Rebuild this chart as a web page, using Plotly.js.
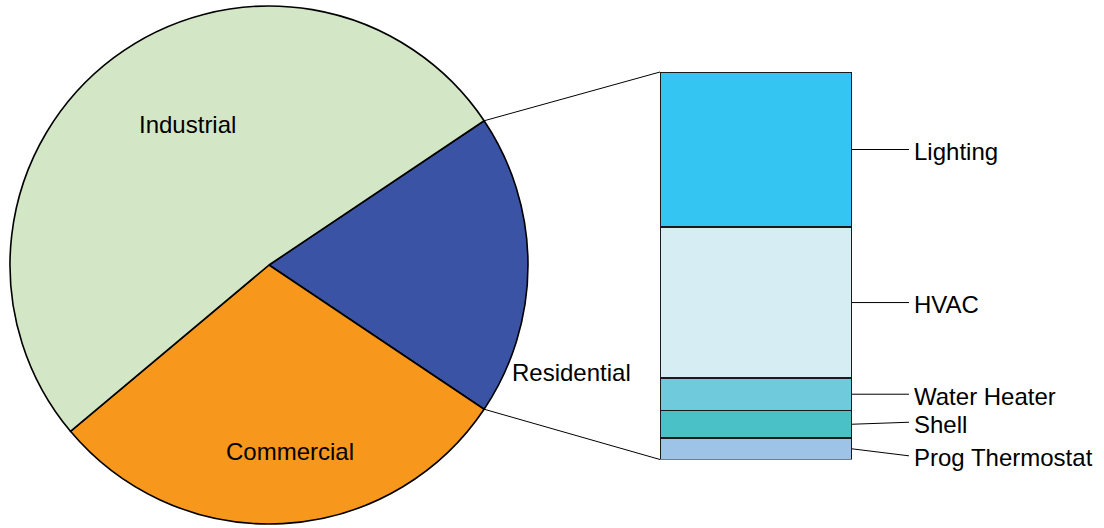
<!DOCTYPE html>
<html><head><meta charset="utf-8">
<script src="https://cdn.plot.ly/plotly-3.0.1.min.js"></script>
<style>html,body{margin:0;padding:0;background:#fff}#chart{width:1104px;height:528px}</style>
</head><body><div id="chart"></div>
<script>
// ---- data ----
const sectors = ['Residential', 'Commercial', 'Industrial'];
const sectorShares = [18.8, 29.5, 51.7];
const sectorColors = ['#3A53A4', '#F7981D', '#D3E7C7'];

const endUses = ['Prog Thermostat', 'Shell', 'Water Heater', 'HVAC', 'Lighting'];
const endUseShares = [5.5, 7.2, 8.3, 39.0, 40.0];
const endUseColors = ['#9DC3E6', '#4AC1C6', '#6FCADB', '#D6EDF3', '#35C5F2'];

// ---- layout geometry (pixels) ----
const W = 1104, H = 528;
const pieBox = {x0: 10, x1: 528, y0: 6, y1: 524};
const barBox = {x0: 660, x1: 852, y0: 72, y1: 459.5};
const leaderDx = 57;
const leaderDy = [7, -2, 0, 0, 0];
const sectorLabelPos = {            // label centres in pixels
  Industrial: [187.5, 124],
  Commercial: [289.5, 451.5],
  Residential: [571.5, 372]
};
const FONT = {family: 'Liberation Sans, Arial, sans-serif', size: 24, color: '#000'};

const px2x = p => p / W;
const px2y = p => 1 - p / H;

const total = sectorShares.reduce((a, b) => a + b, 0);
const rotation = 90 - (sectorShares[0] / total) * 360 / 2;

const traces = [{
  type: 'pie',
  labels: sectors,
  values: sectorShares,
  sort: false,
  direction: 'clockwise',
  rotation: rotation,
  textinfo: 'none',
  hoverinfo: 'skip',
  showlegend: false,
  marker: {colors: sectorColors, line: {color: '#000', width: 1.6}},
  domain: {x: [px2x(pieBox.x0), px2x(pieBox.x1)], y: [px2y(pieBox.y1), px2y(pieBox.y0)]}
}];

endUses.forEach((name, i) => {
  traces.push({
    type: 'bar',
    name: name,
    x: [0],
    y: [endUseShares[i]],
    width: 1,
    cliponaxis: false,
    hoverinfo: 'skip',
    showlegend: false,
    marker: {color: endUseColors[i], line: {color: '#1a1a1a', width: 1.5}}
  });
});

const barTotal = endUseShares.reduce((a, b) => a + b, 0);

// connectors from the pie wedge edge to the bar corners
const cx = (pieBox.x0 + pieBox.x1) / 2, cy = (pieBox.y0 + pieBox.y1) / 2;
const r = Math.min(pieBox.x1 - pieBox.x0, pieBox.y1 - pieBox.y0) / 2;
const aTop = (90 - rotation) * Math.PI / 180;
const aBot = (90 - rotation - (sectorShares[0] / total) * 360) * Math.PI / 180;
const shapes = [
  {type: 'line', xref: 'paper', yref: 'paper',
   x0: px2x(cx + r * Math.cos(aTop)), y0: px2y(cy - r * Math.sin(aTop)),
   x1: px2x(barBox.x0), y1: px2y(barBox.y0), line: {color: '#000', width: 1}},
  {type: 'line', xref: 'paper', yref: 'paper',
   x0: px2x(cx + r * Math.cos(aBot)), y0: px2y(cy - r * Math.sin(aBot)),
   x1: px2x(barBox.x0), y1: px2y(barBox.y1), line: {color: '#000', width: 1}}
];

const annotations = [];
sectors.forEach(s => {
  const p = sectorLabelPos[s];
  annotations.push({xref: 'paper', yref: 'paper', x: px2x(p[0]), y: px2y(p[1]),
    text: s, showarrow: false, xanchor: 'center', yanchor: 'middle', font: FONT});
});
let cum = 0;
endUses.forEach((name, i) => {
  const mid = cum + endUseShares[i] / 2;
  cum += endUseShares[i];
  annotations.push({xref: 'x', yref: 'y', x: 0.5, y: mid, text: name,
    showarrow: true, arrowhead: 0, arrowwidth: 1, arrowcolor: '#000', standoff: 0,
    ax: leaderDx, ay: leaderDy[i], xanchor: 'left', yanchor: 'middle',
    height: 31, valign: 'bottom',
    borderpad: 4, font: FONT});
});

const layout = {
  width: W, height: H,
  margin: {l: 0, r: 0, t: 0, b: 0},
  paper_bgcolor: '#fff', plot_bgcolor: 'rgba(0,0,0,0)',
  barmode: 'stack', bargap: 0, showlegend: false,
  font: FONT,
  xaxis: {domain: [px2x(barBox.x0), px2x(barBox.x1)], range: [-0.5, 0.5], visible: false, fixedrange: true},
  yaxis: {domain: [px2y(barBox.y1), px2y(barBox.y0)], range: [0, barTotal], visible: false, fixedrange: true},
  shapes: shapes,
  annotations: annotations
};

Plotly.newPlot('chart', traces, layout, {staticPlot: true, displayModeBar: false});
</script>
</body></html>
